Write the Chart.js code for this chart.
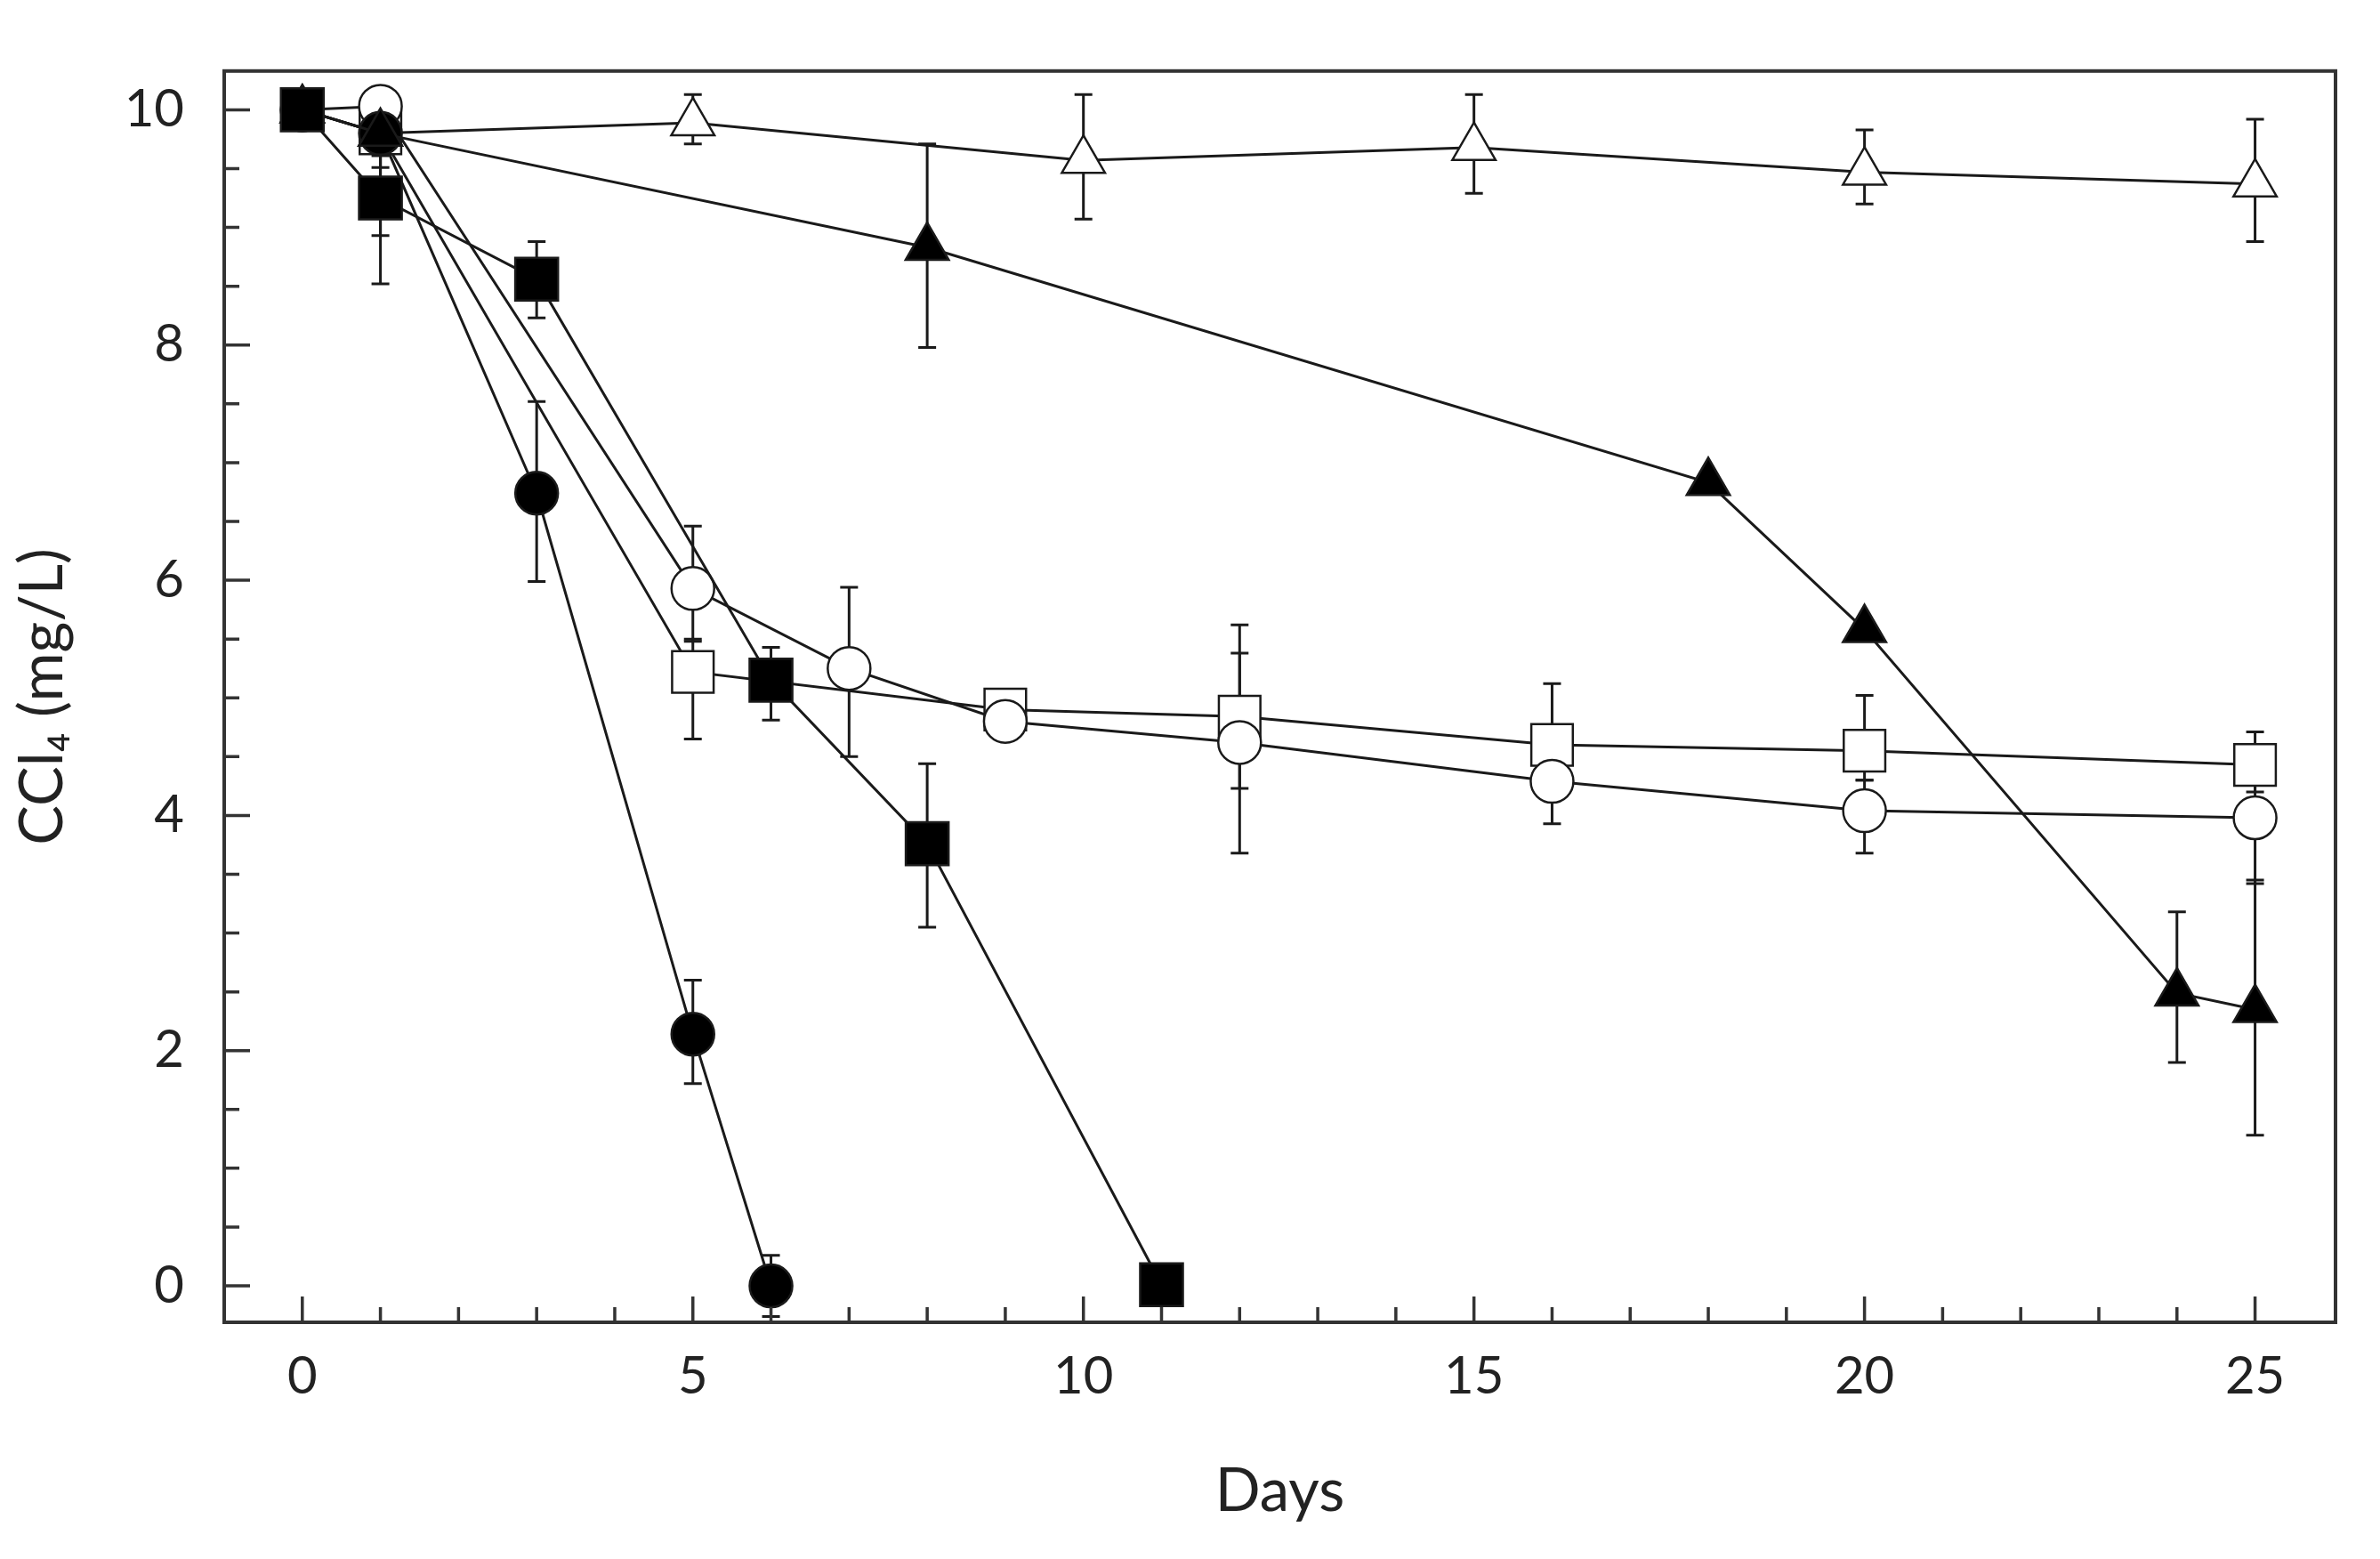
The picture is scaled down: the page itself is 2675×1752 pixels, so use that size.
<!DOCTYPE html>
<html>
<head>
<meta charset="utf-8">
<script src="https://cdn.jsdelivr.net/npm/chart.js@4.4.1/dist/chart.umd.min.js"></script>
<style>
  html, body { margin: 0; padding: 0; background: #fff; }
  #wrap { width: 2675px; height: 1752px; }
</style>
</head>
<body>
<div id="wrap"><canvas id="grafico" width="2675" height="1752"></canvas></div>
<script>
// days and CCl4 (mg/L) per treatment, with error bar ends
const sqFillX  = [0, 1, 3, 6, 8, 11];
const sqFillY  = [10, 9.25, 8.56, 5.15, 3.76, 0.01];
const sqFillLo = [null, 8.52, 8.23, 4.81, 3.05, null];
const sqFillHi = [null, 9.98, 8.88, 5.43, 4.44, null];

const triFillX  = [0, 1, 8, 18, 20, 24, 25];
const triFillY  = [10, 9.8, 8.83, 6.83, 5.58, 2.49, 2.35];
const triFillLo = [null, 9.51, 7.98, null, null, 1.9, 1.28];
const triFillHi = [null, 9.9, 9.71, null, null, 3.18, 3.45];

const circFillX  = [0, 1, 3, 5, 6];
const circFillY  = [10, 9.8, 6.74, 2.14, 0];
const circFillLo = [null, 8.93, 5.99, 1.72, -0.26];
const circFillHi = [null, 9.85, 7.52, 2.6, 0.26];

const circOpenX  = [0, 1, 5, 7, 9, 12, 16, 20, 25];
const circOpenY  = [10, 10.03, 5.93, 5.25, 4.8, 4.62, 4.29, 4.04, 3.98];
const circOpenLo = [null, 9.61, 5.48, 4.5, 4.7, 3.68, 3.93, 3.68, 3.42];
const circOpenHi = [null, 10.1, 6.46, 5.94, 4.9, 5.62, 4.5, 4.3, 4.4];

const sqOpenX  = [0, 1, 5, 9, 12, 16, 20, 25];
const sqOpenY  = [10, 9.8, 5.22, 4.9, 4.84, 4.6, 4.55, 4.43];
const sqOpenLo = [null, null, 4.65, 4.75, 4.23, 4.35, 4.3, 4.2];
const sqOpenHi = [null, null, 5.5, 5.0, 5.38, 5.12, 5.02, 4.71];

const triOpenX  = [0, 1, 5, 10, 15, 20, 25];
const triOpenY  = [10, 9.8, 9.89, 9.57, 9.68, 9.47, 9.37];
const triOpenLo = [null, null, 9.71, 9.07, 9.29, 9.2, 8.88];
const triOpenHi = [null, null, 10.13, 10.13, 10.13, 9.83, 9.92];

const xMajorTicks = [0, 5, 10, 15, 20, 25];
const xMinorTicks = [1, 2, 3, 4, 6, 7, 8, 9, 11, 12, 13, 14, 16, 17, 18, 19, 21, 22, 23, 24];
const yMajorTicks = [0, 2, 4, 6, 8, 10];
const yMinorTicks = [0.5, 1, 1.5, 2.5, 3, 3.5, 4.5, 5, 5.5, 6.5, 7, 7.5, 8.5, 9, 9.5];

const ink = '#1a1a1a';

function punti(xs, ys) {
  return xs.map((x, i) => ({ x: x, y: ys[i] }));
}

function serie(xs, ys, lo, hi, style, fill, radius) {
  return {
    data: punti(xs, ys),
    errLo: lo,
    errHi: hi,
    showLine: true,
    borderColor: ink,
    borderWidth: 3,
    pointStyle: style,
    pointRadius: radius,
    pointBackgroundColor: fill,
    pointBorderColor: ink,
    pointBorderWidth: 2.5,
  };
}

const erroriPlugin = {
  id: 'errori',
  beforeDatasetsDraw(chart) {
    const ctx = chart.ctx;
    const xs = chart.scales.x, ys = chart.scales.y;
    ctx.save();
    ctx.strokeStyle = ink;
    ctx.lineWidth = 3;
    chart.data.datasets.forEach(ds => {
      ds.data.forEach((p, i) => {
        const lo = ds.errLo[i], hi = ds.errHi[i];
        if (lo === null || hi === null) return;
        const px = xs.getPixelForValue(p.x);
        const y1 = ys.getPixelForValue(lo), y2 = ys.getPixelForValue(hi);
        ctx.beginPath();
        ctx.moveTo(px, y1); ctx.lineTo(px, y2);
        ctx.moveTo(px - 10, y1); ctx.lineTo(px + 10, y1);
        ctx.moveTo(px - 10, y2); ctx.lineTo(px + 10, y2);
        ctx.stroke();
      });
    });
    ctx.restore();
  }
};

const cornicePlugin = {
  id: 'cornice',
  afterDraw(chart) {
    const ctx = chart.ctx;
    const a = chart.chartArea;
    const xs = chart.scales.x, ys = chart.scales.y;
    ctx.save();
    ctx.strokeStyle = '#333';
    ctx.lineWidth = 3.5;
    ctx.beginPath();
    xMajorTicks.forEach(v => { const p = xs.getPixelForValue(v); ctx.moveTo(p, a.bottom); ctx.lineTo(p, a.bottom - 29); });
    xMinorTicks.forEach(v => { const p = xs.getPixelForValue(v); ctx.moveTo(p, a.bottom); ctx.lineTo(p, a.bottom - 17); });
    yMajorTicks.forEach(v => { const p = ys.getPixelForValue(v); ctx.moveTo(a.left, p); ctx.lineTo(a.left + 29, p); });
    yMinorTicks.forEach(v => { const p = ys.getPixelForValue(v); ctx.moveTo(a.left, p); ctx.lineTo(a.left + 17, p); });
    ctx.stroke();
    ctx.lineWidth = 4;
    ctx.strokeRect(a.left, a.top, a.right - a.left, a.bottom - a.top);
    ctx.restore();
  }
};

const Grafico = document.getElementById('grafico');

const myChart = new Chart(Grafico, {
  type: 'scatter',
  data: {
    datasets: [
      serie(sqFillX, sqFillY, sqFillLo, sqFillHi, 'rect', '#000', 34),
      serie(triFillX, triFillY, triFillLo, triFillHi, 'triangle', '#000', 28),
      serie(circFillX, circFillY, circFillLo, circFillHi, 'circle', '#000', 24),
      serie(circOpenX, circOpenY, circOpenLo, circOpenHi, 'circle', '#fff', 24),
      serie(sqOpenX, sqOpenY, sqOpenLo, sqOpenHi, 'rect', '#fff', 33),
      serie(triOpenX, triOpenY, triOpenLo, triOpenHi, 'triangle', '#fff', 28),
    ]
  },
  options: {
    responsive: false,
    animation: false,
    devicePixelRatio: 1,
    layout: { padding: { left: 0, top: 59, right: 50, bottom: 0 } },
    plugins: {
      legend: { display: false },
      tooltip: { enabled: false },
    },
    scales: {
      x: {
        type: 'linear',
        min: -1,
        max: 26.03,
        grid: { display: false, drawTicks: false },
        border: { display: false },
        afterFit: s => { s.height = 266; },
        afterBuildTicks: s => { s.ticks = xMajorTicks.map(v => ({ value: v })); },
        ticks: {
          padding: 26,
          autoSkip: false,
          maxRotation: 0,
          color: '#222',
          font: { family: 'Lato', size: 58 },
        },
        title: {
          display: true,
          text: 'Days',
          color: '#222',
          font: { family: 'Lato', size: 67 },
          padding: { bottom: 35 },
        },
      },
      y: {
        type: 'linear',
        min: -0.31,
        max: 10.33,
        grid: { display: false, drawTicks: false },
        border: { display: false },
        afterFit: s => { s.width = 252; },
        afterBuildTicks: s => { s.ticks = yMajorTicks.map(v => ({ value: v })); },
        ticks: {
          padding: 45,
          color: '#222',
          font: { family: 'Lato', size: 58 },
        },
        title: {
          display: true,
          text: 'CCl₄ (mg/L)',
          color: '#222',
          font: { family: 'Lato', size: 67 },
          padding: { top: 8 },
        },
      },
    },
  },
  plugins: [erroriPlugin, cornicePlugin],
});
</script>
</body>
</html>
